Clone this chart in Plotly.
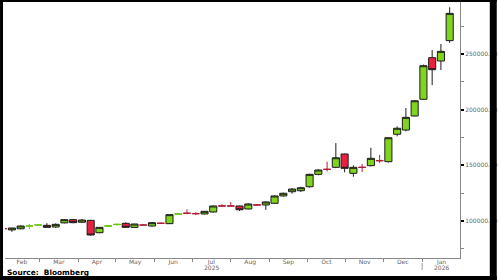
import plotly.graph_objects as go
import pandas as pd

# Weekly candles (week-ending Friday)
dates = pd.date_range("2025-01-31", periods=52, freq="7D").strftime("%Y-%m-%d").tolist()

opens = [93300, 92000, 93000, 95400, 96300, 96100, 94600, 98300, 101200, 98900,
         100600, 89500, 95300, 96700, 97900, 94300, 96500, 95500, 98100, 97600,
         106100, 107100, 106800, 106300, 108100, 113700, 113600, 113500, 110800, 114600,
         114400, 115900, 122500, 126300, 127200, 130800, 141900, 146600, 148200, 160200,
         142800, 148400, 149700, 154400, 153300, 177900, 181700, 194300, 209300, 246700,
         243700, 262000]
highs = [93800, 94000, 96000, 97300, 97300, 98000, 97800, 101800, 101800, 101800,
         101000, 94500, 96500, 97800, 98800, 97500, 97200, 99000, 98400, 106000,
         107000, 110500, 108000, 109000, 114000, 115000, 117000, 113800, 116000, 115300,
         117800, 123000, 125500, 129500, 130800, 142500, 146500, 153200, 170000, 160500,
         150000, 151200, 165800, 159300, 175000, 185000, 201500, 208500, 240500, 253500,
         259000, 292000]
lows = [92500, 90300, 92500, 92800, 95500, 94000, 94000, 97800, 98000, 98500,
        87000, 89000, 94800, 96000, 94000, 94000, 95500, 95000, 97600, 97300,
        105500, 106000, 105400, 106000, 107500, 112500, 113000, 109000, 110500, 113800,
        110000, 115500, 122000, 124500, 126000, 130000, 141000, 144500, 147500, 143700,
        139800, 144000, 149000, 152100, 152500, 176000, 180500, 193800, 209000, 222000,
        235600, 260000]
closes = [93000, 93700, 95500, 95600, 96500, 94300, 97000, 101200, 98500, 100900,
          87400, 94300, 95700, 97000, 94300, 97300, 96300, 98500, 97900, 105700,
          106400, 106900, 106500, 108700, 113500, 113400, 113400, 110100, 115300, 114300,
          117100, 122500, 124900, 128700, 129900, 141900, 145800, 146300, 156800, 147300,
          148200, 148100, 156300, 154100, 174800, 183300, 193100, 208000, 239500, 235900,
          252400, 286500]

month_labels = ["Feb", "Mar", "Apr", "May", "Jun", "Jul", "Aug", "Sep", "Oct", "Nov", "Dec", "Jan"]
month_starts = pd.date_range("2025-02-01", periods=13, freq="MS")
month_mids = [(month_starts[i] + (month_starts[i + 1] - month_starts[i]) / 2).strftime("%Y-%m-%d %H:%M")
              for i in range(12)]
year_labels = ["2025", "2026"]
year_label_months = [5, 11]  # index into month_labels (Jul, Jan)
source_text = "<b>Source:  Bloomberg</b>"

GREEN = "#80D41E"
RED = "#E8213F"
OUTLINE = "#1c1c1c"

# split into regular candles and near-doji crosses
reg = [i for i in range(len(dates)) if abs(closes[i] - opens[i]) >= 600]
dj = [i for i in range(len(dates)) if abs(closes[i] - opens[i]) < 600]

def pick(arr, idx):
    return [arr[i] for i in idx]

fig = go.Figure()
fig.add_trace(go.Candlestick(
    x=pick(dates, reg), open=pick(opens, reg), high=pick(highs, reg),
    low=pick(lows, reg), close=pick(closes, reg),
    increasing=dict(fillcolor=GREEN, line=dict(color=OUTLINE, width=1)),
    decreasing=dict(fillcolor=RED, line=dict(color=OUTLINE, width=1)),
    whiskerwidth=0, showlegend=False, hoverinfo="skip"))
fig.add_trace(go.Candlestick(
    x=pick(dates, dj), open=pick(opens, dj), high=pick(highs, dj),
    low=pick(lows, dj), close=pick(closes, dj),
    increasing=dict(fillcolor=GREEN, line=dict(color="#6CC417", width=1)),
    decreasing=dict(fillcolor=RED, line=dict(color="#B0203A", width=1)),
    whiskerwidth=0, showlegend=False, hoverinfo="skip"))

L, R, T, B = 5, 37, 2, 22
W, H = 500 - L - R, 280 - T - B

def px(x):
    return (x - L) / W

def py(y):
    return (T + H - y) / H

shapes = []
# frame
for (x0, y0, x1, y1) in [(0, 0, 3, 280), (0, 0, 500, 2), (493, 0, 500, 280), (0, 276, 500, 280)]:
    shapes.append(dict(type="rect", xref="paper", yref="paper",
                       x0=px(x0), x1=px(x1), y0=py(y1), y1=py(y0),
                       fillcolor="black", line=dict(width=0), layer="above"))
# year separator
shapes.append(dict(type="line", xref="x", yref="paper", x0="2026-01-01", x1="2026-01-01",
                   y0=py(263), y1=py(270), line=dict(color="#999", width=1)))

annotations = []
for lbl, mi in zip(year_labels, year_label_months):
    annotations.append(dict(x=month_mids[mi], y=py(267), xref="x", yref="paper", text=lbl, showarrow=False,
                            font=dict(family="DejaVu Sans", size=6, color="#666"),
                            xanchor="center", yanchor="middle"))
annotations.append(dict(x=px(5), y=py(272), xref="paper", yref="paper", text=source_text,
                        showarrow=False, font=dict(family="DejaVu Sans", size=7.4, color="black"),
                        xanchor="left", yanchor="middle"))

fig.update_layout(
    width=500, height=280,
    margin=dict(l=L, r=R, t=T, b=B),
    paper_bgcolor="white", plot_bgcolor="white",
    boxgap=0.1, boxgroupgap=0.1,
    shapes=shapes, annotations=annotations,
    xaxis=dict(
        type="date", range=["2025-02-01T12:00", "2026-01-31T06:00"],
        rangeslider=dict(visible=False),
        tickmode="array", tickvals=month_mids, ticktext=month_labels,
        ticks="", ticklen=0, ticklabelstandoff=-2,
        minor=dict(tickmode="linear", tick0="2025-02-01", dtick="M1", ticks="outside",
                   ticklen=3, tickcolor="#888", tickwidth=1, showgrid=False),
        showline=True, linecolor="#888", linewidth=1,
        showgrid=False, zeroline=False,
        tickfont=dict(family="DejaVu Sans", size=6, color="#666"),
    ),
    yaxis=dict(
        side="right", range=[66766, 296706],
        tickmode="linear", tick0=0, dtick=50000, tickformat=".2f",
        ticks="outside", ticklen=3, tickcolor="black", tickwidth=2,
        minor=dict(dtick=25000, tick0=0, ticks="outside", ticklen=3, tickcolor="#888", tickwidth=1),
        showline=True, linecolor="#888", linewidth=1,
        showgrid=False, zeroline=False,
        tickfont=dict(family="DejaVu Sans", size=6, color="#666"),
    ),
)

fig.write_html("out.html")
